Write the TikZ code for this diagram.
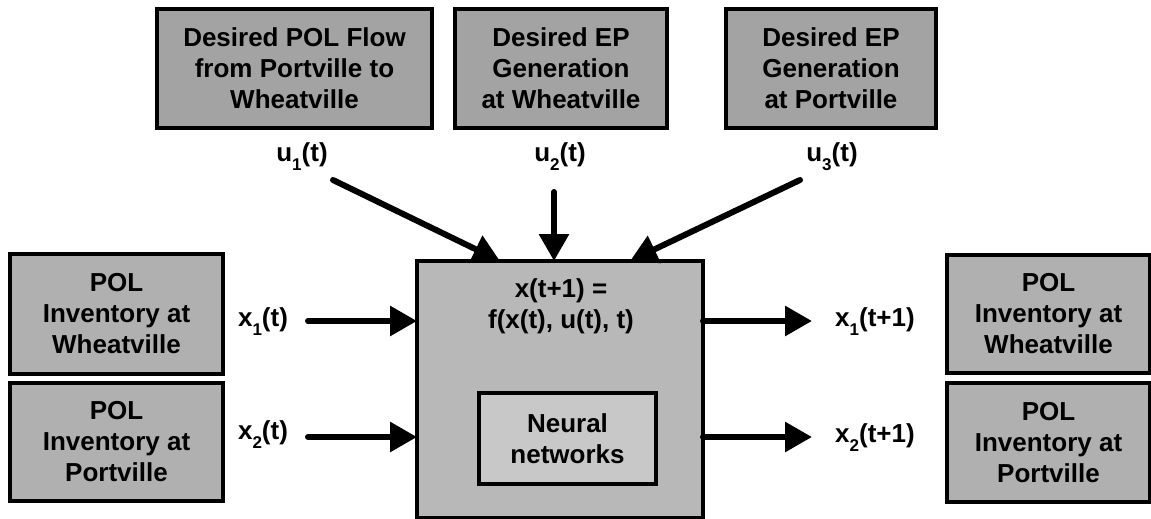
\documentclass[tikz,border=0pt]{standalone}
\usepackage{fontspec}
\setmainfont{Liberation Sans}
\usetikzlibrary{arrows.meta}
\definecolor{topfill}{RGB}{163,163,163}
\definecolor{sidefill}{RGB}{176,176,176}
\definecolor{mainfill}{RGB}{184,184,184}
\definecolor{innerfill}{RGB}{200,200,200}
\newcommand{\lsub}[1]{\raisebox{-0.35em}{\fontsize{17}{17}\selectfont #1}}
\begin{document}
\begin{tikzpicture}[x=1pt,y=-1pt,
  font=\fontsize{26}{31}\selectfont\bfseries,
  box/.style={draw=black, line width=3.5pt, align=center, inner sep=0pt, outer sep=0pt},
  topbox/.style={box, fill=topfill, minimum height=119pt},
  sidebox/.style={box, fill=sidefill, minimum width=205pt, minimum height=119pt},
  lbl/.style={inner sep=0pt},
  arr/.style={line width=6pt, line cap=round, -{Triangle[length=27pt,width=29pt,line cap=butt,line join=miter]}}
]
\useasboundingbox (0,0) rectangle (1151,519);
% top input boxes
\node[topbox, minimum width=275pt] (t1) at (294.5,68.5) {Desired POL Flow\\from Portville to\\Wheatville};
\node[topbox, minimum width=212pt] (t2) at (561,68.5) {Desired EP\\Generation\\at Wheatville};
\node[topbox, minimum width=210pt] (t3) at (831,68.5) {Desired EP\\Generation\\at Portville};
% left state boxes
\node[sidebox, minimum width=213pt, minimum height=120pt] (l1) at (116.5,314) {POL\\Inventory at\\Wheatville};
\node[sidebox, minimum width=213pt, minimum height=118pt] (l2) at (116.5,442) {POL\\Inventory at\\Portville};
% right state boxes
\node[sidebox, minimum width=203pt, minimum height=118pt] (r1) at (1048.5,314) {POL\\Inventory at\\Wheatville};
\node[sidebox, minimum width=203pt, minimum height=119pt] (r2) at (1048.5,442.5) {POL\\Inventory at\\Portville};
% main box
\node[box, fill=mainfill, minimum width=286pt, minimum height=257pt] (main) at (560,389.5) {};
\node[lbl, align=center] (eq) at (561,306) {x(t+1) =\\f(x(t), u(t), t)};
\node[box, fill=innerfill, minimum width=177pt, minimum height=91pt] (nn) at (567.5,438.5) {Neural\\networks};
% labels
\node[lbl] (u1) at (302,157) {u\lsub{1}(t)};
\node[lbl] (u2) at (560,157) {u\lsub{2}(t)};
\node[lbl] (u3) at (832,157) {u\lsub{3}(t)};
\node[lbl] (x1) at (263,322) {x\lsub{1}(t)};
\node[lbl] (x2) at (263,435) {x\lsub{2}(t)};
\node[lbl] (y1) at (875,322) {x\lsub{1}(t+1)};
\node[lbl] (y2) at (875,438) {x\lsub{2}(t+1)};
% arrow endpoints
\coordinate (a1s) at (333,180);
\coordinate (a1e) at (500,261);
\coordinate (a2s) at (554,192);
\coordinate (a2e) at (554,261);
\coordinate (a3s) at (800,180);
\coordinate (a3e) at (630,261);
\coordinate (x1s) at (308,321);
\coordinate (x2s) at (308,437);
\coordinate (y1e) at (812,321);
\coordinate (y2e) at (812,437);
% arrows
\draw[arr] (a1s) -- (a1e);
\draw[arr] (a2s) -- (a2e);
\draw[arr] (a3s) -- (a3e);
\draw[arr] (x1s) -- (x1s -| main.west);
\draw[arr] (x2s) -- (x2s -| main.west);
\draw[arr] (y1e -| main.east) -- (y1e);
\draw[arr] (y2e -| main.east) -- (y2e);
\end{tikzpicture}
\end{document}
